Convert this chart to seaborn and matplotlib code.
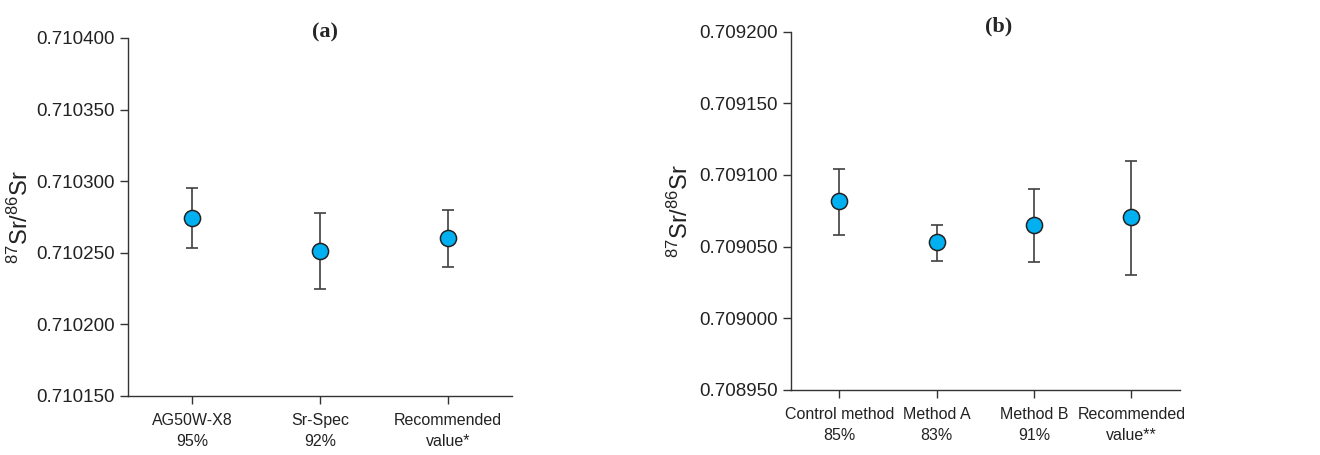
import numpy as np
import pandas as pd
import seaborn as sns
import matplotlib.pyplot as plt
from matplotlib.ticker import FormatStrFormatter

# Panel (a): separation resins
labels_a = ["AG50W-X8\n95%", "Sr-Spec\n92%", "Recommended\nvalue*"]
mean_a = [0.710274, 0.710251, 0.710260]
low_a = [0.710253, 0.710225, 0.710240]
high_a = [0.710295, 0.710278, 0.710280]

# Panel (b): methods
labels_b = ["Control method\n85%", "Method A\n83%", "Method B\n91%", "Recommended\nvalue**"]
mean_b = [0.709082, 0.709053, 0.709065, 0.709071]
low_b = [0.709058, 0.709040, 0.709039, 0.709030]
high_b = [0.709104, 0.709065, 0.709090, 0.709110]

sns.set_style("ticks")
plt.rcParams['font.family'] = ['Liberation Sans', 'DejaVu Sans']
plt.rcParams['mathtext.default'] = 'regular'

fill = "#00B0F0"

fig = plt.figure(figsize=(13.2, 4.55), dpi=100)
ax_a = fig.add_axes([0.097, 0.1297, 0.291, 0.7868])
ax_b = fig.add_axes([0.599, 0.1429, 0.295, 0.7875])


def draw_panel(ax, labels, mean, low, high, ylim, title, title_x, label_x):
    df = pd.DataFrame({"sample": labels, "ratio": mean})
    yerr = [np.array(mean) - np.array(low), np.array(high) - np.array(mean)]
    ax.errorbar(df["sample"], df["ratio"], yerr=yerr, fmt="none",
                ecolor="#404040", elinewidth=1.2, capsize=4.5, capthick=1.2, zorder=2)
    sns.scatterplot(data=df, x="sample", y="ratio", ax=ax, s=135, color=fill,
                    edgecolor="#222222", linewidth=1.1, zorder=3, legend=False)
    ax.set_xlim(-0.5, len(labels) - 0.5)
    ax.set_ylim(*ylim)
    ax.set_yticks(np.linspace(ylim[0], ylim[1], 6))
    ax.yaxis.set_major_formatter(FormatStrFormatter('%.6f'))
    ax.tick_params(axis="y", labelsize=13.5, length=6, width=1, color="#333333",
                   labelcolor="#222222")
    ax.tick_params(axis="x", labelsize=11.5, length=6, width=1, color="#333333",
                   labelcolor="#222222", pad=6)
    plt.setp(ax.get_xticklabels(), linespacing=1.5)
    ax.set_xlabel("")
    ax.set_ylabel(r"$^{87}$Sr/$^{86}$Sr", fontsize=17, color="#222222")
    ax.yaxis.set_label_coords(label_x, 0.5)
    for side in ["top", "right"]:
        ax.spines[side].set_visible(False)
    for side in ["left", "bottom"]:
        ax.spines[side].set_color("#333333")
        ax.spines[side].set_linewidth(1)
    ax.text(title_x, 1.014, title, transform=ax.transAxes, ha="center", va="center",
            fontsize=16, fontweight="bold", family="Liberation Serif")


draw_panel(ax_a, labels_a, mean_a, low_a, high_a, (0.710150, 0.710400), "(a)", 0.514, -0.247)
draw_panel(ax_b, labels_b, mean_b, low_b, high_b, (0.708950, 0.709200), "(b)", 0.535, -0.252)

fig.savefig("out.png", dpi=100)
